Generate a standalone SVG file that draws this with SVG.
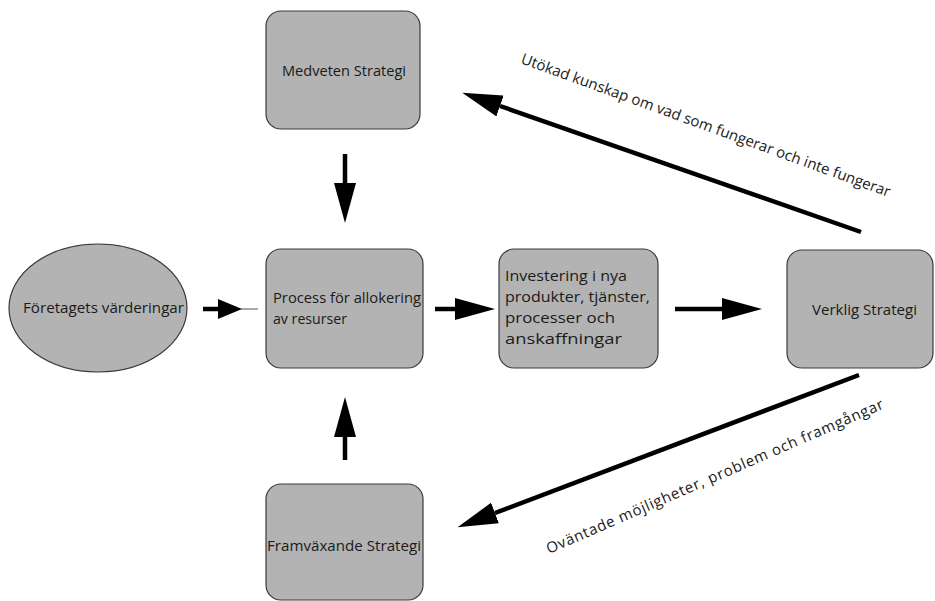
<svg xmlns="http://www.w3.org/2000/svg" width="935" height="601" viewBox="0 0 935 601">
  <style>
    .box { fill: #b3b3b3; stroke: #3a3a3a; stroke-width: 1.2; }
    .lbl { font-family: "Open Sans", "Liberation Sans", sans-serif; font-size: 14px; fill: #1a1a1a; }
    .big { font-size: 15px; }
    .mid { text-anchor: middle; }
    .conn { stroke: #000; stroke-width: 4.5; fill: none; }
    .thin { stroke: #555; stroke-width: 1; fill: none; }
  </style>
  <defs>
    <!-- large filled arrowhead, drawn forward from the end of the line -->
    <marker id="head" markerUnits="userSpaceOnUse" viewBox="0 0 40 22" refX="0" refY="11" markerWidth="40" markerHeight="22" orient="auto">
      <path d="M0,0 L40,11 L0,22 Z" fill="#000"/>
    </marker>
    <!-- shorter head for the values arrow -->
    <marker id="headSmall" markerUnits="userSpaceOnUse" viewBox="0 0 24 20" refX="0" refY="10" markerWidth="24" markerHeight="20" orient="auto">
      <path d="M0,0 L24,10 L0,20 Z" fill="#000"/>
    </marker>
  </defs>

  <rect width="935" height="601" fill="#fff"/>

  <g id="connectors">
    <!-- Företagets värderingar -> Process -->
    <line class="conn" x1="203" y1="309" x2="218" y2="309" marker-end="url(#headSmall)"/>
    <line class="thin" x1="240" y1="309" x2="258" y2="309"/>
    <!-- Medveten -> Process -->
    <line class="conn" x1="345" y1="154" x2="345" y2="183" marker-end="url(#head)"/>
    <!-- Framväxande -> Process -->
    <line class="conn" x1="345" y1="460" x2="345" y2="437" marker-end="url(#head)"/>
    <!-- Process -> Investering -->
    <line class="conn" x1="435" y1="309" x2="455" y2="309" marker-end="url(#head)"/>
    <!-- Investering -> Verklig -->
    <line class="conn" x1="675" y1="309" x2="722" y2="309" marker-end="url(#head)"/>
    <!-- Verklig -> Medveten -->
    <line class="conn" x1="861" y1="232" x2="500" y2="106" marker-end="url(#head)"/>
    <!-- Verklig -> Framväxande -->
    <line class="conn" x1="859" y1="375" x2="495" y2="513" marker-end="url(#head)"/>
    <text class="lbl big" transform="translate(520,63) rotate(20)" textLength="392" lengthAdjust="spacing">Utökad kunskap om vad som fungerar och inte fungerar</text>
    <text class="lbl big" transform="translate(549,554) rotate(-23.5)" textLength="366" lengthAdjust="spacing">Oväntade möjligheter, problem och framgångar</text>
  </g>

  <g id="medveten">
    <rect class="box" x="266" y="11" width="154" height="118" rx="15"/>
    <text class="lbl" x="282" y="76" textLength="124" lengthAdjust="spacingAndGlyphs">Medveten Strategi</text>
  </g>

  <g id="varderingar">
    <ellipse class="box" cx="98" cy="308" rx="89" ry="64"/>
    <text class="lbl" x="23" y="313" textLength="161" lengthAdjust="spacingAndGlyphs">Företagets värderingar</text>
  </g>

  <g id="process">
    <rect class="box" x="266" y="249" width="157" height="119" rx="15"/>
    <text class="lbl" x="273" y="303" textLength="148" lengthAdjust="spacingAndGlyphs">Process för allokering</text>
    <text class="lbl" x="273" y="324" textLength="74" lengthAdjust="spacingAndGlyphs">av resurser</text>
  </g>

  <g id="investering">
    <rect class="box" x="499" y="249" width="159" height="119" rx="15"/>
    <text class="lbl big" x="505" y="281" textLength="122" lengthAdjust="spacingAndGlyphs">Investering i nya</text>
    <text class="lbl big" x="505" y="302" textLength="145" lengthAdjust="spacingAndGlyphs">produkter, tjänster,</text>
    <text class="lbl big" x="505" y="323" textLength="110" lengthAdjust="spacingAndGlyphs">processer och</text>
    <text class="lbl big" x="505" y="344" textLength="117" lengthAdjust="spacingAndGlyphs">anskaffningar</text>
  </g>

  <g id="verklig">
    <rect class="box" x="787" y="250" width="146" height="118" rx="15"/>
    <text class="lbl" x="812" y="315" textLength="105" lengthAdjust="spacingAndGlyphs">Verklig Strategi</text>
  </g>

  <g id="framvaxande">
    <rect class="box" x="266" y="484" width="157" height="116" rx="15"/>
    <text class="lbl" x="267" y="551" textLength="154" lengthAdjust="spacingAndGlyphs">Framväxande Strategi</text>
  </g>
</svg>
